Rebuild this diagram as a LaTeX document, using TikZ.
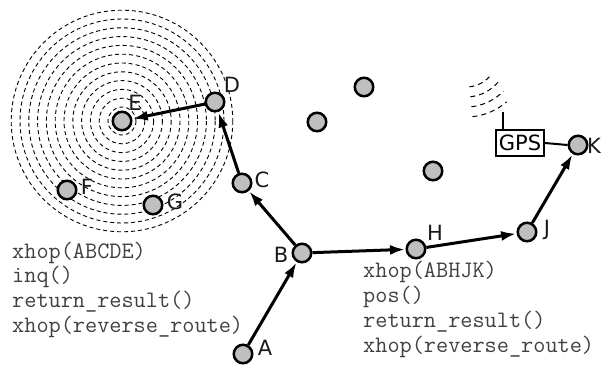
\documentclass[tikz,border=0pt]{standalone}
\usepackage{fontspec}
\setmainfont{DejaVu Sans}
\usetikzlibrary{arrows.meta,calc}
\begin{document}
\begin{tikzpicture}[x=1pt,y=-1pt,
  station/.style={circle, draw=black, line width=2.5pt, fill=gray!50,
                  minimum size=18.5pt, inner sep=0pt},
  hop/.style={line width=3pt, -{Latex[length=15pt,width=10pt]}, shorten >=0.5pt},
  tag/.style={font=\fontsize{21}{21}\selectfont, text=black!90, inner sep=0pt},
  code/.style={font=\ttfamily\fontsize{23.6}{24}\selectfont, text=black!75,
               anchor=base west, inner sep=0pt},
  ring/.style={line width=0.9pt, dash pattern=on 4pt off 3pt},
  wave/.style={line width=1pt, dash pattern=on 5pt off 4pt},
  gpsbox/.style={draw=black, line width=2pt, minimum width=48pt, minimum height=26pt,
                 inner sep=0pt, font=\fontsize{21}{21}\selectfont}]
\useasboundingbox (0,0) rectangle (601,364);

% query flood around the target node
\coordinate (ec) at (122,121);
\foreach \i in {0,...,11}
  \draw[ring] (ec) circle[radius=14+8.8*\i];

% GPS receiver with its antenna and incoming signal
\node[gpsbox] (gps) at (520,143) {GPS};
\coordinate (ant) at (503,112);
\draw[line width=2pt] (ant) -- (ant |- gps.north);
\coordinate (wc) at (466,55);
\foreach \r/\e in {32/36,42/40,52/44,62/49}
  \draw[wave] ($(wc)+(84:\r)$) arc[start angle=84, end angle=\e, radius=\r];

% stations
\node[station] (A) at (243,354) {};
\node[station] (B) at (302,253) {};
\node[station] (C) at (242,183) {};
\node[station] (D) at (215,102) {};
\node[station] (E) at (122,121) {};
\node[station] (F) at (67,190) {};
\node[station] (G) at (153,205) {};
\node[station] (H) at (416,249) {};
\node[station] (J) at (527,232) {};
\node[station] (K) at (578,145) {};
\node[station] (n1) at (364,87) {};
\node[station] (n2) at (317,122) {};
\node[station] (n3) at (433,171) {};

\draw[line width=2pt] (gps.east) -- (K.west);

% labels
\node[tag] (lA) at (265,348) {A};
\node[tag] (lB) at (281,255) {B};
\node[tag] (lC) at (262,180) {C};
\node[tag] (lD) at (232,85) {D};
\node[tag] (lE) at (135,103) {E};
\node[tag] (lF) at (87,187) {F};
\node[tag] (lG) at (175,202) {G};
\node[tag] (lH) at (435,233) {H};
\node[tag] (lJ) at (547,230) {J};
\node[tag] (lK) at (594,146) {K};

% routes
\draw[hop] (A) -- (B);
\draw[hop] (B) -- (C);
\draw[hop] (C) -- (D);
\draw[hop] (D) -- (E);
\draw[hop] (B) -- (H);
\draw[hop] (H) -- (J);
\draw[hop] (J) -- (K);

% scripts
\node[code] (l1) at (12,258) {xhop(ABCDE)};
\node[code] (l2) at (12,282.5) {inq()};
\node[code] (l3) at (12,307) {return\_result()};
\node[code] (l4) at (12,332) {xhop(reverse\_route)};
\node[code] (r1) at (363,277) {xhop(ABHJK)};
\node[code] (r2) at (363,302) {pos()};
\node[code] (r3) at (363,327) {return\_result()};
\node[code] (r4) at (363,352) {xhop(reverse\_route)};
\end{tikzpicture}
\end{document}
